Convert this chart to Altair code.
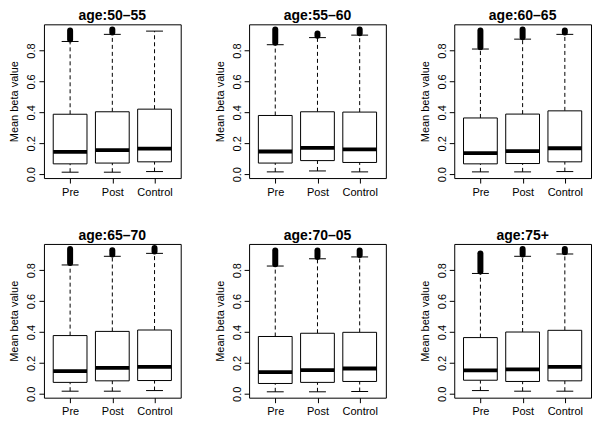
import altair as alt
import pandas as pd

panels = ["age:50–55", "age:55–60", "age:60–65", "age:65–70", "age:70–05", "age:75+"]
groups = ["Pre", "Post", "Control"]

# per panel: values for Pre, Post, Control
lower_whisker = [[0.013, 0.013, 0.017], [0.015, 0.021, 0.015], [0.015, 0.015, 0.017],
                 [0.017, 0.017, 0.021], [0.013, 0.013, 0.015], [0.021, 0.017, 0.017]]
q1_vals = [[0.067, 0.072, 0.080], [0.072, 0.088, 0.076], [0.067, 0.069, 0.080],
           [0.074, 0.084, 0.086], [0.067, 0.074, 0.080], [0.088, 0.080, 0.084]]
median_vals = [[0.145, 0.156, 0.166], [0.147, 0.171, 0.160], [0.137, 0.149, 0.168],
               [0.147, 0.168, 0.175], [0.141, 0.154, 0.164], [0.152, 0.158, 0.175]]
q3_vals = [[0.388, 0.404, 0.421], [0.380, 0.404, 0.402], [0.364, 0.389, 0.410],
           [0.377, 0.404, 0.413], [0.371, 0.392, 0.398], [0.364, 0.400, 0.411]]
upper_whisker = [[0.859, 0.905, 0.926], [0.838, 0.884, 0.900], [0.810, 0.874, 0.905],
                 [0.834, 0.890, 0.909], [0.827, 0.874, 0.886], [0.779, 0.890, 0.905]]
outlier_max = [[0.930, 0.937, None], [0.937, 0.910, 0.937], [0.930, 0.937, 0.930],
               [0.937, 0.930, 0.943], [0.928, 0.928, 0.928], [0.909, 0.937, 0.937]]

FONT = "Liberation Sans"
label_expr = "[" + ",".join("'" + g + "'" for g in groups) + "][datum.value-1]"

xs = alt.Scale(domain=[0.38, 3.62], nice=False, zero=False)
ys = alt.Scale(domain=[-0.025, 0.97], nice=False, zero=False)
x_axis = alt.Axis(values=[1, 2, 3], labelExpr=label_expr, title=None)
y_axis = alt.Axis(values=[0, 0.2, 0.4, 0.6, 0.8], format=".1f", title="Mean beta value")


def X(f):
    return alt.X(f, type="quantitative", scale=xs, axis=x_axis)


def Y(f):
    return alt.Y(f, type="quantitative", scale=ys, axis=y_axis)


def panel(i):
    rows = []
    for j, g in enumerate(groups):
        rows.append(dict(group=g, idx=j + 1, lw=lower_whisker[i][j], q1=q1_vals[i][j],
                         med=median_vals[i][j], q3=q3_vals[i][j], uw=upper_whisker[i][j],
                         omax=outlier_max[i][j]))
    df = pd.DataFrame(rows)
    base = alt.Chart(df).transform_calculate(
        xl="datum.idx-0.4", xr="datum.idx+0.4", sl="datum.idx-0.2", sr="datum.idx+0.2"
    )
    wh_up = base.mark_rule(color="black", strokeWidth=1, strokeDash=[4, 3]).encode(
        x=X("idx"), y=Y("q3"), y2="uw:Q")
    wh_lo = base.mark_rule(color="black", strokeWidth=1, strokeDash=[4, 3]).encode(
        x=X("idx"), y=Y("lw"), y2="q1:Q")
    box = base.mark_rect(fill="white", stroke="black", strokeWidth=1).encode(
        x=X("xl"), x2="xr:Q", y=Y("q1"), y2="q3:Q")
    med = base.mark_rule(color="black", strokeWidth=3.8).encode(
        x=X("xl"), x2="xr:Q", y=Y("med"))
    st_up = base.mark_rule(color="black", strokeWidth=1).encode(
        x=X("sl"), x2="sr:Q", y=Y("uw"))
    st_lo = base.mark_rule(color="black", strokeWidth=1).encode(
        x=X("sl"), x2="sr:Q", y=Y("lw"))
    outl = base.transform_filter("isValid(datum.omax)").transform_calculate(
        ostart="datum.uw + 0.012"
    ).mark_rule(color="black", strokeWidth=6, strokeCap="round").encode(
        x=X("idx"), y=Y("ostart"), y2="omax:Q")
    return alt.layer(wh_up, wh_lo, box, med, st_up, st_lo, outl).properties(
        width=137, height=154, title=panels[i])


chart = alt.concat(*[panel(i) for i in range(6)], columns=3, spacing={"row": 66, "column": 68.5},
                   bounds="flush").properties(
    padding={"left": 0, "top": 0, "right": 0, "bottom": 0}
).configure_view(
    stroke="black", strokeWidth=1
).configure_axis(
    domain=False, grid=False, tickColor="black", tickSize=5, labelColor="black",
    labelFont=FONT, labelFontSize=11, titleFont=FONT, titleFontSize=11,
    titleFontWeight="normal", titleColor="black"
).configure_axisLeft(
    labelAngle=-90, labelAlign="center", labelBaseline="bottom", labelPadding=2, titlePadding=6
).configure_axisBottom(
    labelPadding=3
).configure_title(
    font=FONT, fontSize=14, fontWeight="bold", offset=1, anchor="middle", color="black"
)

chart.save("out.html", embed_options={"renderer": "svg", "actions": False})
